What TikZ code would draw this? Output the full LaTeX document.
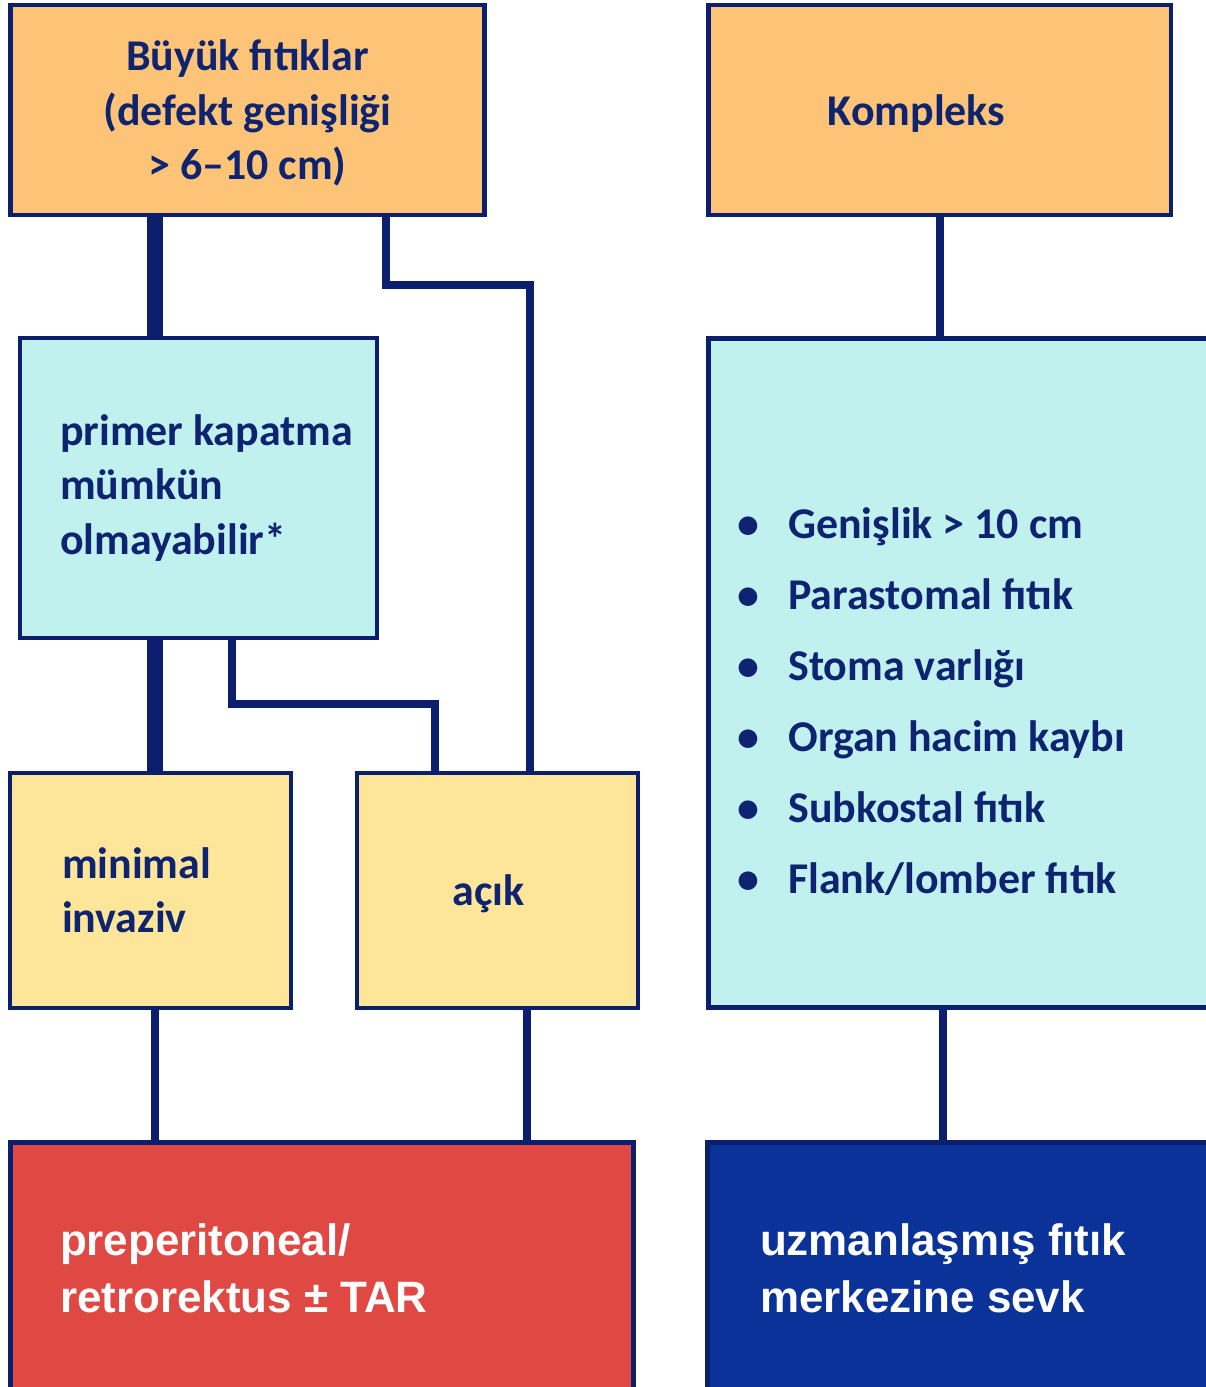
\documentclass[tikz,border=0pt]{standalone}
\usepackage{fontspec}
\setmainfont{Carlito}
\newfontfamily\headsans{Liberation Sans}
\usetikzlibrary{calc}

\definecolor{navy}{HTML}{0B1F6E}
\definecolor{inknavy}{HTML}{0E2470}
\definecolor{peach}{HTML}{FDC478}
\definecolor{aqua}{HTML}{C1F1EF}
\definecolor{butter}{HTML}{FDE59A}
\definecolor{tomato}{HTML}{E04843}
\definecolor{royal}{HTML}{0B3299}

\begin{document}
\begin{tikzpicture}[
    x=0.02cm, y=-0.02cm,
    box/.style = {draw = navy, line width = 2.8pt, inner sep = 0pt,
                  text = inknavy, font = \bfseries\fontsize{25}{31}\selectfont},
    endbox/.style = {box, text = white, minimum height = 5.06cm, align = flush left,
                  font = \headsans\bfseries\fontsize{25}{32.3}\selectfont},
    thickwire/.style = {navy, line width = 9pt},
    wire/.style = {navy, line width = 4.5pt, line join = miter},
    thinwire/.style = {navy, line width = 4pt},
    ]

    % Determines the boundries (pixel units of the reference)
    \path[use as bounding box] (0,0) rectangle (1206,1387);
    \fill[white] (0,0) rectangle (1206,1387);

    % Top row
    \node[box, fill = peach, minimum width = 9.5cm, minimum height = 4.2cm,
          align = center, text depth = 0pt] (big) at (247.5,110)
          {Büyük fıtıklar\\(defekt genişliği\\> 6–10 cm)};
    \node[box, fill = peach, minimum width = 9.26cm, minimum height = 4.2cm,
          text depth = 0pt] (kompleks) at (939.5,110)
          {Kompleks\hspace*{0.92cm}};

    % Middle row
    \node[box, fill = aqua, minimum width = 7.14cm, minimum height = 6cm,
          inner xsep = 0.8cm, text width = 5.54cm, align = flush left]
          (primer) at (198.5,488)
          {\mbox{primer kapatma}\\mümkün\\olmayabilir*};
    \node[box, fill = aqua, minimum width = 10.44cm, minimum height = 13.4cm]
          (kriter) at (969,673) {};
    \node[anchor = west, inner sep = 0pt, align = left, text = inknavy,
          font = \bfseries\fontsize{25}{40.4}\selectfont] (liste) at (737,702)
          {\makebox[1.02cm][l]{\textbullet}Genişlik > 10 cm\\
           \makebox[1.02cm][l]{\textbullet}Parastomal fıtık\\
           \makebox[1.02cm][l]{\textbullet}Stoma varlığı\\
           \makebox[1.02cm][l]{\textbullet}Organ hacim kaybı\\
           \makebox[1.02cm][l]{\textbullet}Subkostal fıtık\\
           \makebox[1.02cm][l]{\textbullet}Flank/lomber fıtık};

    % Technique
    \node[box, fill = butter, minimum width = 5.62cm, minimum height = 4.7cm,
          inner xsep = 1.04cm, text width = 3.54cm, align = flush left]
          (minimal) at (150.5,890.5) {minimal\\invaziv};
    \node[box, fill = butter, minimum width = 5.62cm, minimum height = 4.7cm,
          text depth = 0pt] (acik) at (497.5,890.5) {açık\hspace*{0.36cm}};

    % Outcomes
    \node[endbox, fill = tomato, minimum width = 12.48cm,
          inner xsep = 1cm, text width = 10.48cm] (onarim) at (322,1268.5)
          {preperitoneal/\\retrorektus ± TAR};
    \node[endbox, fill = royal, minimum width = 10.46cm,
          inner xsep = 1.06cm, text width = 8.34cm] (sevk) at (968.5,1268.5)
          {uzmanlaşmış fıtık\\merkezine sevk};

    % Connectors
    \draw[thickwire] (big.south -| 155,0) -- (primer.north -| 155,0);
    \draw[wire] (big.south -| 386,0) -- (386,285) -| (acik.north -| 530,0);
    \draw[wire] (kompleks.south -| 940,0) -- (kriter.north -| 940,0);
    \draw[thickwire] (primer.south -| 155,0) -- (minimal.north -| 155,0);
    \draw[wire] (primer.south -| 232,0) -- (232,704) -| (acik.north -| 435,0);
    \draw[thinwire] (minimal.south -| 155,0) -- (onarim.north -| 155,0);
    \draw[thinwire] (acik.south -| 527,0) -- (onarim.north -| 527,0);
    \draw[thinwire] (kriter.south -| 943,0) -- (sevk.north -| 943,0);
\end{tikzpicture}
\end{document}
